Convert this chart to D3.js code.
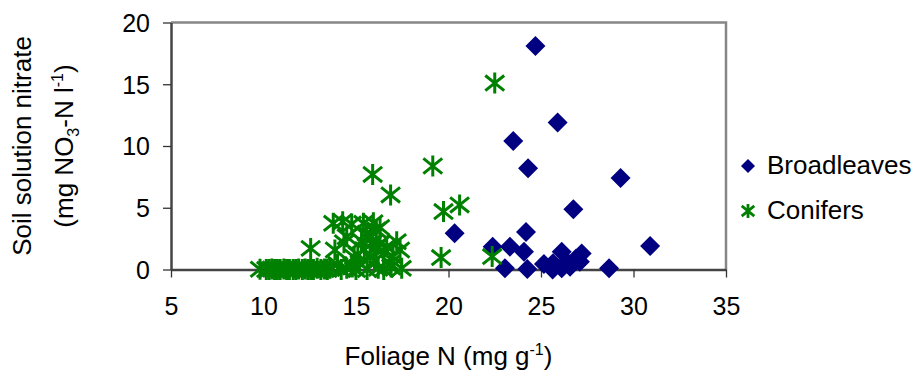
<!DOCTYPE html>
<html>
  <head>
    <meta charset="utf-8">
    <title>Soil solution nitrate vs foliage N</title>
    <style>
      body {
        margin: 0;
        background: #fff;
        font-family: 'Liberation Sans', Arial, sans-serif;
      }
      svg text {
        fill: #000;
      }
      .tick text {
        font-size: 25px;
      }
      .axis-title {
        font-size: 26px;
      }
      .legend text {
        font-size: 26px;
      }
    </style>
  </head>
  <body>
    <svg width="918" height="376"></svg>
    <script src="https://d3js.org/d3.v7.min.js"></script>
    <script>
      // [foliage N, soil solution nitrate]
      const broadleaves = [
        [24.7, 18.1], [25.9, 11.9], [23.5, 10.4], [24.3, 8.2], [29.3, 7.4],
        [26.75, 4.87], [20.33, 2.93], [24.19, 3.03], [30.9, 1.9], [22.39, 1.85],
        [23.32, 1.85], [24.08, 1.44], [23.05, 0.1], [24.26, 0.04], [25.16, 0.44],
        [25.63, 0.0], [26.12, 1.44], [26.12, 0.1], [26.39, 0.63], [27.2, 1.3],
        [27.1, 0.63], [28.68, 0.1], [25.65, 0.5], [26.57, 0.23], [26.9, 0.9]
      ];
      const conifers = [
        [22.5, 15.1], [19.15, 8.38], [15.9, 7.7], [16.87, 6.04], [20.6, 5.23],
        [19.73, 4.69], [19.6, 0.97], [22.36, 1.05], [12.55, 1.71], [13.77, 3.74],
        [14.28, 3.87], [14.77, 3.68], [15.4, 3.74], [15.94, 3.79], [16.3, 3.4],
        [13.86, 1.58], [14.35, 2.17], [14.5, 2.65], [15.58, 2.93], [15.8, 2.6],
        [16.1, 3.2], [16.3, 2.1], [16.66, 1.85], [17.2, 2.25], [17.38, 1.58],
        [17.0, 1.04], [17.47, 0.1], [13.6, 0.1], [14.2, 0.0], [15.2, 0.5],
        [15.76, 1.04], [16.0, 0.7], [16.5, 1.3], [15.45, 1.6], [16.84, 0.5],
        [15.6, 0.0], [9.81, 0.02], [10.3, 0.0], [10.6, 0.0], [10.9, 0.0],
        [11.1, 0.05], [11.4, 0.0], [11.6, 0.0], [11.9, 0.05], [12.1, 0.0],
        [12.4, 0.0], [12.7, 0.0], [12.9, 0.1], [13.1, 0.0], [14.8, 0.2],
        [15.1, 1.2], [16.2, 0.1], [16.9, 0.2], [14.0, 0.4], [15.9, 2.2],
        [16.1, 1.8], [15.3, 2.3], [14.9, 1.0], [10.15, 0.0], [10.45, 0.05],
        [10.75, 0.0], [11.25, 0.0], [11.75, 0.0], [12.25, 0.05], [12.55, 0.0],
        [13.3, 0.05], [13.45, 0.0], [14.5, 0.1], [15.0, 0.0], [16.5, 0.0]
      ];
      const xTicks = [5, 10, 15, 20, 25, 30, 35];
      const yTicks = [0, 5, 10, 15, 20];
      const seriesNames = ['Broadleaves', 'Conifers'];

      const svg = d3.select('svg');
      const plot = {left: 171, right: 726, top: 22.5, bottom: 269.5};

      const x = d3.scaleLinear().domain([5, 35]).range([plot.left, plot.right]);
      const y = d3.scaleLinear().domain([0, 20]).range([plot.bottom, plot.top]);

      const navy = '#000080';
      const green = '#008000';

      // plot area border (top and right in gray)
      svg.append('path')
        .attr('d', `M${plot.left},${plot.top}H${plot.right}V${plot.bottom}`)
        .attr('fill', 'none')
        .attr('stroke', '#868686')
        .attr('stroke-width', 2.5);

      const xAxis = svg.append('g')
        .attr('transform', `translate(0,${plot.bottom})`)
        .call(d3.axisBottom(x).tickValues(xTicks).tickSize(8).tickPadding(20).tickSizeOuter(0));
      const yAxis = svg.append('g')
        .attr('transform', `translate(${plot.left},0)`)
        .call(d3.axisLeft(y).tickValues(yTicks).tickSize(8).tickPadding(13).tickSizeOuter(0));

      [xAxis, yAxis].forEach(g => {
        g.attr('font-family', null).attr('font-size', null);
        g.select('.domain').attr('stroke', '#444').attr('stroke-width', 2.5);
        g.selectAll('.tick line').attr('stroke', '#333').attr('stroke-width', 1.3);
        g.selectAll('.tick text').attr('fill', '#000');
      });
      yAxis.selectAll('.tick text').attr('dy', '0.35em');

      const diamond = (r) => `M0,${-r}L${r},0L0,${r}L${-r},0Z`;
      const asterisk = (r) => {
        const d = r * 0.9;
        return `M0,${-r}V${r}M${-d},${-d * 0.8}L${d},${d * 0.8}M${-d},${d * 0.8}L${d},${-d * 0.8}`;
      };

      svg.append('g')
        .selectAll('path')
        .data(broadleaves)
        .join('path')
          .attr('transform', d => `translate(${x(d[0])},${y(d[1])})`)
          .attr('d', diamond(10))
          .attr('fill', navy);

      svg.append('g')
        .selectAll('path')
        .data(conifers)
        .join('path')
          .attr('transform', d => `translate(${x(d[0])},${y(d[1])})`)
          .attr('d', asterisk(10.5))
          .attr('fill', 'none')
          .attr('stroke', green)
          .attr('stroke-width', 3);

      // axis titles
      const xTitle = svg.append('text')
        .attr('class', 'axis-title')
        .attr('x', (plot.left + plot.right) / 2)
        .attr('y', 365)
        .attr('text-anchor', 'middle');
      xTitle.append('tspan').text('Foliage N (mg g');
      xTitle.append('tspan').attr('font-size', 16).attr('dy', -10).text('-1');
      xTitle.append('tspan').attr('dy', 10).text(')');

      const yTitle = svg.append('g')
        .attr('transform', `translate(0,${(plot.top + plot.bottom) / 2}) rotate(-90)`);
      yTitle.append('text')
        .attr('class', 'axis-title')
        .attr('x', 0)
        .attr('y', 31)
        .attr('text-anchor', 'middle')
        .text('Soil solution nitrate');
      const line2 = yTitle.append('text')
        .attr('class', 'axis-title')
        .attr('x', 0)
        .attr('y', 73)
        .attr('text-anchor', 'middle');
      line2.append('tspan').text('(mg NO');
      line2.append('tspan').attr('font-size', 16).attr('dy', 6).text('3');
      line2.append('tspan').attr('dy', -6).text('-N l');
      line2.append('tspan').attr('font-size', 16).attr('dy', -10).text('-1');
      line2.append('tspan').attr('dy', 10).text(')');

      // legend
      const legend = svg.append('g').attr('class', 'legend');
      const legendItems = legend.selectAll('g')
        .data(seriesNames)
        .join('g')
          .attr('transform', (d, i) => `translate(748,${166 + i * 45})`);
      legendItems.append('path')
        .attr('d', (d, i) => i === 0 ? diamond(7) : asterisk(7))
        .attr('fill', (d, i) => i === 0 ? navy : 'none')
        .attr('stroke', (d, i) => i === 0 ? 'none' : green)
        .attr('stroke-width', 2.8);
      legendItems.append('text')
        .attr('x', 19)
        .attr('y', 8)
        .text(d => d);
    </script>
  </body>
</html>
